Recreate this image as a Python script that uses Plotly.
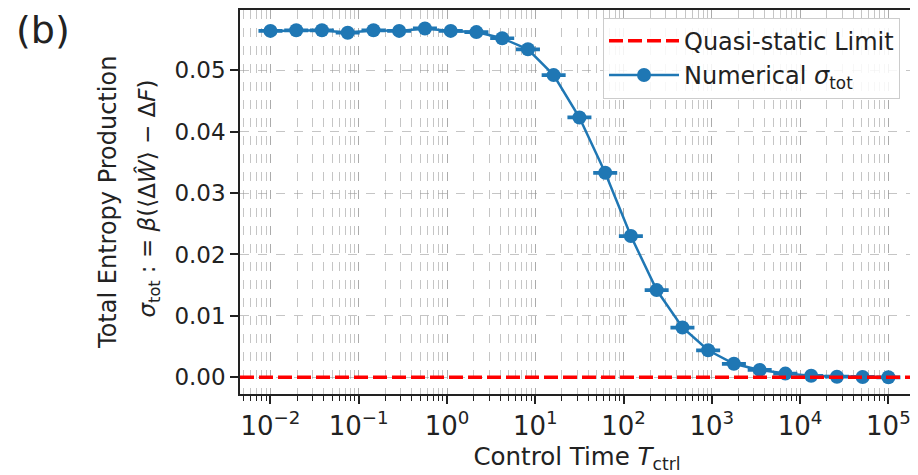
import numpy as np
import plotly.graph_objects as go

# ---- data ----
t_exponents = [-2.0, -1.708, -1.417, -1.125, -0.833, -0.542, -0.25, 0.042, 0.333,
               0.625, 0.917, 1.208, 1.5, 1.792, 2.083, 2.375, 2.667, 2.958, 3.25,
               3.542, 3.833, 4.125, 4.417, 4.708, 5.0]
control_time = [10 ** e for e in t_exponents]
sigma_tot = [0.0564, 0.0565, 0.0565, 0.0561, 0.0565, 0.0564, 0.0568, 0.0564, 0.0562,
             0.0552, 0.0534, 0.0492, 0.0423, 0.0333, 0.0230, 0.0142, 0.0081, 0.0044,
             0.0022, 0.0012, 0.0006, 0.00025, 0.0001, 0.00005, 0.0]
sigma_err = [0.0001] * len(sigma_tot)
quasi_static_limit = 0.0

x_tick_exponents = [-2, -1, 0, 1, 2, 3, 4, 5]
x_tickvals = [10 ** e for e in x_tick_exponents]
x_ticktext = ["10<sup>%s</sup>" % (str(e).replace("-", "−")) for e in x_tick_exponents]
y_tickvals = [0.00, 0.01, 0.02, 0.03, 0.04, 0.05]

y_title_1 = "Total Entropy Production"
y_title_2 = "<i>σ</i><sub>tot</sub> : = <i>β</i>(⟨Δ<i>Ŵ</i>⟩ − Δ<i>F</i>)"

FONT = "DejaVu Sans"
BLUE = "#1f77b4"
GRID = "rgba(150,150,150,0.55)"
TXT = "#222"

fig = go.Figure()

# legend entry for the quasi-static limit (line drawn as a shape below)
fig.add_trace(go.Scatter(
    x=[None], y=[None], mode="lines",
    line=dict(color="#ff0000", width=3.5, dash="14px,5px"),
    name="Quasi-static Limit"))

fig.add_trace(go.Scatter(
    x=control_time, y=sigma_tot, mode="lines+markers",
    line=dict(color=BLUE, width=2.5),
    marker=dict(color=BLUE, size=14),
    error_y=dict(type="data", array=sigma_err, visible=True, color=BLUE,
                 thickness=2.5, width=12),
    name="Numerical <i>σ</i><sub>tot</sub>"))

fig.add_hline(y=quasi_static_limit, line=dict(color="#ff0000", width=3.5, dash="14px,5px"),
              layer="above")

# page body has an 8px margin, so the figure is 8px smaller than the window
fig.update_layout(
    width=910, height=467,
    margin=dict(l=232, r=4, t=2, b=81, autoexpand=False),
    paper_bgcolor="white", plot_bgcolor="white",
    font=dict(family=FONT, size=22, color=TXT),
    showlegend=True,
    legend=dict(x=0.5386, y=0.98, xanchor="left", yanchor="top",
                bgcolor="rgba(255,255,255,0.85)", bordercolor="#cccccc", borderwidth=1,
                font=dict(size=24, family=FONT, color=TXT),
                itemwidth=70, tracegroupgap=4),
    xaxis=dict(
        type="log", range=[-2.345, 5.29],
        tickmode="array", tickvals=x_tickvals, ticktext=x_ticktext,
        automargin=False,
        showline=True, linecolor=TXT, linewidth=1.5, mirror=True,
        ticks="outside", ticklen=8, tickwidth=1.5, tickcolor=TXT,
        showgrid=True, gridcolor=GRID, griddash="dash", gridwidth=1,
        minor=dict(ticks="outside", ticklen=5, tickwidth=1, tickcolor=TXT,
                   showgrid=True, gridcolor=GRID, griddash="dash", gridwidth=1,
                   dtick="D1"),
        tickfont=dict(size=26, family=FONT, color=TXT),
        title=dict(text="Control Time <i>T</i><sub>ctrl</sub>",
                   font=dict(size=24.5, family=FONT, color=TXT), standoff=8),
        zeroline=False),
    yaxis=dict(
        range=[-0.00272, 0.0598], tickvals=y_tickvals, tickformat=".2f",
        automargin=False,
        showline=True, linecolor=TXT, linewidth=1.5, mirror=True,
        ticks="outside", ticklen=8, tickwidth=1.5, tickcolor=TXT,
        showgrid=True, gridcolor=GRID, griddash="dash", gridwidth=1,
        tickfont=dict(size=23, family=FONT, color=TXT),
        zeroline=False),
)

fig.add_annotation(text=y_title_1, xref="paper", yref="paper", x=-0.196, y=0.5,
                   xanchor="center", yanchor="middle", textangle=-90, showarrow=False,
                   font=dict(size=24, family=FONT, color=TXT))
fig.add_annotation(text=y_title_2, xref="paper", yref="paper", x=-0.136, y=0.51,
                   xanchor="center", yanchor="middle", textangle=-90, showarrow=False,
                   font=dict(size=23, family=FONT, color=TXT))

fig.add_annotation(text="(b)", xref="paper", yref="paper", x=-0.335, y=1.01,
                   xanchor="left", yanchor="top", showarrow=False,
                   font=dict(size=38, family=FONT, color=TXT))

fig.write_html("out.html")
